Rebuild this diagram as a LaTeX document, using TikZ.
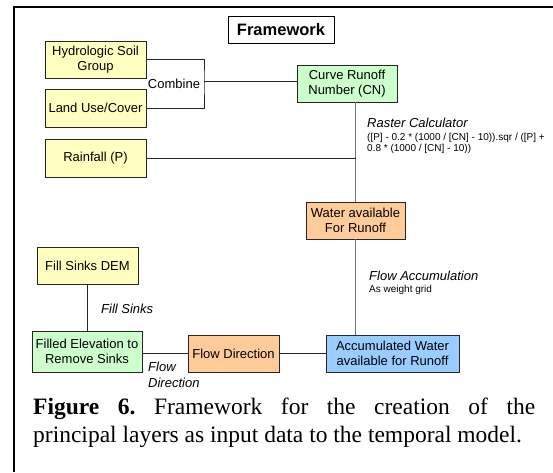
\documentclass[tikz,border=0pt]{standalone}
\usepackage{fontspec}
\setmainfont{Liberation Sans}
\newfontfamily\capfont{Liberation Serif}
\definecolor{ylw}{HTML}{FFFFC0}
\definecolor{grn}{HTML}{CCFFCC}
\definecolor{org}{HTML}{FFCC99}
\definecolor{blu}{HTML}{99CCFF}
\tikzset{
  box/.style={draw=black!85, line width=0.8pt, align=center, inner sep=1pt,
    font=\fontsize{13}{15}\selectfont},
  link/.style={draw=black!85, line width=0.8pt},
  mainlink/.style={draw=black!55, line width=1.4pt},
  lbl/.style={font=\fontsize{13}{15}\selectfont\itshape, inner sep=0pt, anchor=west, align=left},
  small/.style={font=\fontsize{10}{11.5}\selectfont, inner sep=0pt, anchor=west, align=left}
}
\frenchspacing
\begin{document}
\begin{tikzpicture}[x=1pt,y=-1pt]
\useasboundingbox (0,0) rectangle (553,472);
\fill[white] (0,0) rectangle (553,472);
% frame
\draw[line width=2pt] (14,472) -- (14,7) -- (553,7);
% title
\node[draw=black, line width=0.8pt, minimum width=106pt, minimum height=27pt,
  font=\fontsize{16.5}{18}\selectfont\bfseries, inner sep=0pt] (fw) at (281,29.5) {Framework};
% nodes
\node[box, fill=ylw, minimum width=101pt, minimum height=37pt] (hsg) at (95.5,59.5) {Hydrologic Soil\\Group};
\node[box, fill=ylw, minimum width=101pt, minimum height=38pt] (luc) at (95.5,108) {Land Use/Cover};
\node[box, fill=ylw, minimum width=101pt, minimum height=38pt] (rain) at (95.5,158) {Rainfall (P)};
\node[box, fill=grn, minimum width=100pt, minimum height=37pt] (cn) at (347,83.5) {Curve Runoff\\Number (CN)};
\node[box, fill=org, minimum width=99pt, minimum height=37pt] (water) at (355.5,220.5) {Water available\\For Runoff};
\node[box, fill=blu, minimum width=133pt, minimum height=37pt] (accum) at (392.5,353.5) {Accumulated Water\\available for Runoff};
\node[box, fill=org, minimum width=91pt, minimum height=37pt] (flowdir) at (233.5,353.5) {Flow Direction};
\node[box, fill=ylw, minimum width=101pt, minimum height=37pt] (fsdem) at (87.5,265.5) {Fill Sinks DEM};
\node[box, fill=grn, minimum width=110pt, minimum height=41pt] (filled) at (87,351.5) {Filled Elevation to\\Remove Sinks};
% connectors
\coordinate (cb) at (204,81);
\draw[link] (hsg.east) -| (cb) |- (luc.east);
\draw[link] (cb) -- (cb -| cn.west);
\draw[mainlink] (water.north) -- (water.north |- cn.south);
\draw[link] (rain.east) -- (rain.east -| water.north);
\draw[mainlink] (water.south) -- (water.south |- accum.north);
\draw[link] (flowdir.east) -- (flowdir.east -| accum.west);
\draw[link] (flowdir.west) -- (flowdir.west -| filled.east);
\draw[link] (fsdem.south) -- (fsdem.south |- filled.north);
% labels
\node[font=\fontsize{13}{15}\selectfont, inner sep=0pt] (comb) at (174,84) {Combine};
\node[lbl] (rc) at (367,123) {Raster Calculator};
\node[small] (rcf) at (367,143.5) {([P] - 0.2 * (1000 / [CN] - 10)).sqr / ([P] +\\0.8 * (1000 / [CN] - 10))};
\node[lbl] (fa) at (369,276) {Flow Accumulation};
\node[small] (fag) at (369,290) {As weight grid};
\node[lbl] (fs) at (101,309) {Fill Sinks};
\node[lbl, font=\fontsize{13}{16}\selectfont\itshape] (fd) at (148,375) {Flow\\Direction};
% caption
\node[anchor=base west, inner sep=0pt, font=\capfont\fontsize{23.5}{28}\selectfont] (cap1) at (33,414)
  {\frenchspacing\makebox[502pt][s]{\textbf{Figure 6.} Framework for the creation of the}};
\node[anchor=base west, inner sep=0pt, font=\capfont\fontsize{23.5}{28}\selectfont] (cap2) at (33,442)
  {principal layers as input data to the temporal model.};
\end{tikzpicture}
\end{document}
